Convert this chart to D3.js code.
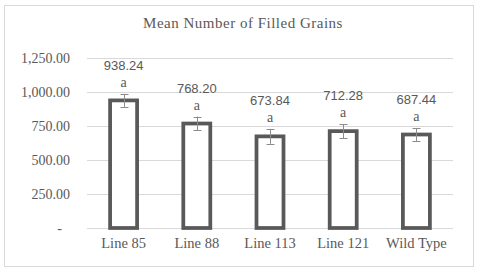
<!DOCTYPE html>
<html>
<head>
<meta charset="utf-8">
<script src="https://cdn.jsdelivr.net/npm/d3@7/dist/d3.min.js"></script>
<style>
  body { margin: 0; background: #fff; }
  svg { display: block; }
</style>
</head>
<body>
<svg class="chart"></svg>
<script>
var categories = ["Line 85", "Line 88", "Line 113", "Line 121", "Wild Type"];
var means = [938.24, 768.20, 673.84, 712.28, 687.44];
var errors = [48, 51, 55, 51, 48];
var letters = ["a", "a", "a", "a", "a"];
var yTicks = [0, 250, 500, 750, 1000, 1250];
var yTickLabels = ["-", "250.00", "500.00", "750.00", "1,000.00", "1,250.00"];

var W = 480, H = 272;
var margin = {top: 58, right: 27, bottom: 44, left: 87},
    width = W - margin.left - margin.right,
    height = H - margin.top - margin.bottom;

var serif = "'Liberation Serif', 'Times New Roman', serif";
var grey = "#595959";

var svg = d3.select(".chart")
    .attr("width", W)
    .attr("height", H);

// outer frame
svg.append("rect")
    .attr("x", 4.5)
    .attr("y", 5.5)
    .attr("width", 469)
    .attr("height", 261)
    .attr("fill", "#fff")
    .attr("stroke", "#d9d9d9");

svg.append("text")
    .attr("x", 243)
    .attr("y", 28)
    .attr("text-anchor", "middle")
    .style("font", "15px " + serif)
    .style("letter-spacing", "0.5px")
    .attr("fill", grey)
    .text("Mean Number of Filled Grains");

var chart = svg.append("g")
    .attr("transform", "translate(" + margin.left + "," + margin.top + ")");

var x = d3.scaleBand()
    .domain(categories)
    .range([0, width])
    .padding(0);

var y = d3.scaleLinear()
    .domain([0, 1250])
    .range([height, 0]);

// gridlines
chart.selectAll(".grid")
    .data(yTicks)
    .enter().append("line")
      .attr("class", "grid")
      .attr("x1", 0)
      .attr("x2", width)
      .attr("y1", function(d) { return Math.round(y(d)) + 0.5; })
      .attr("y2", function(d) { return Math.round(y(d)) + 0.5; })
      .attr("stroke", "#d9d9d9");

// y axis labels
var yAxis = d3.axisLeft(y)
    .tickValues(yTicks)
    .tickSize(0)
    .tickPadding(17)
    .tickFormat(function(d, i) { return yTickLabels[i]; });

var gy = chart.append("g")
    .attr("class", "y axis")
    .call(yAxis);
gy.select(".domain").remove();
gy.selectAll("text")
    .style("font", "14px " + serif)
    .attr("fill", grey)
    .attr("dx", function(d) { return d === 0 ? -8 : 0; });

// x axis labels
var xAxis = d3.axisBottom(x)
    .tickSize(0)
    .tickPadding(10);

var gx = chart.append("g")
    .attr("class", "x axis")
    .attr("transform", "translate(0," + height + ")")
    .call(xAxis);
gx.select(".domain").remove();
gx.selectAll("text")
    .style("font", "14.5px " + serif)
    .attr("fill", grey);

var barW = 27;

// bars
chart.selectAll(".bar")
    .data(categories)
    .enter().append("rect")
      .attr("class", "bar")
      .attr("x", function(d) { return x(d) + x.bandwidth() / 2 - barW / 2; })
      .attr("y", function(d, i) { return y(means[i]); })
      .attr("width", barW)
      .attr("height", function(d, i) { return height - y(means[i]); })
      .attr("fill", "#fff")
      .attr("stroke", grey)
      .attr("stroke-width", 3.75);

// error bars
var err = chart.selectAll(".err")
    .data(categories)
    .enter().append("g")
      .attr("class", "err")
      .attr("stroke", "#8c8c8c")
      .attr("stroke-width", 1);

function cx(d) { return Math.round(x(d) + x.bandwidth() / 2) + 0.5; }

err.append("line")
    .attr("x1", cx).attr("x2", cx)
    .attr("y1", function(d, i) { return y(means[i] + errors[i]); })
    .attr("y2", function(d, i) { return y(means[i] - errors[i]); });

err.selectAll(".cap")
    .data(function(d) {
      var i = categories.indexOf(d);
      return [[d, means[i] + errors[i]], [d, means[i] - errors[i]]];
    })
    .enter().append("line")
      .attr("x1", function(p) { return cx(p[0]) - 4; })
      .attr("x2", function(p) { return cx(p[0]) + 4; })
      .attr("y1", function(p) { return Math.round(y(p[1])) + 0.5; })
      .attr("y2", function(p) { return Math.round(y(p[1])) + 0.5; });

// letters
chart.selectAll(".letter")
    .data(categories)
    .enter().append("text")
      .attr("class", "letter")
      .attr("x", function(d) { return x(d) + x.bandwidth() / 2; })
      .attr("y", function(d, i) { return y(means[i] + errors[i]) - 7; })
      .attr("text-anchor", "middle")
      .style("font", "14px " + serif)
      .attr("fill", grey)
      .text(function(d, i) { return letters[i]; });

// value labels
chart.selectAll(".val")
    .data(categories)
    .enter().append("text")
      .attr("class", "val")
      .attr("x", function(d) { return x(d) + x.bandwidth() / 2; })
      .attr("y", function(d, i) { return y(means[i] + errors[i]) - 24; })
      .attr("text-anchor", "middle")
      .style("font", "13px 'Liberation Sans', Arial, sans-serif")
      .attr("fill", grey)
      .text(function(d, i) { return means[i].toFixed(2); });
</script>
</body>
</html>
